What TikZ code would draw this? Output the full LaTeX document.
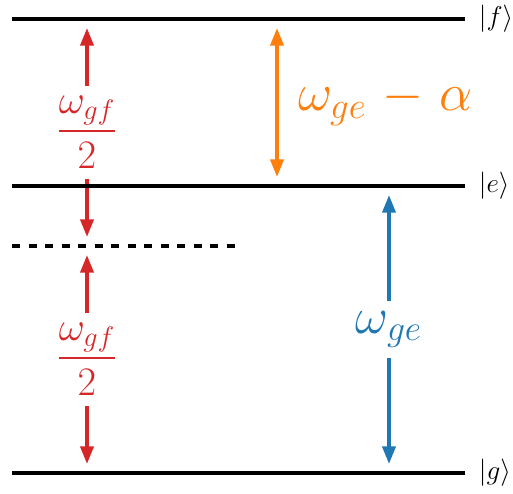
\RequirePackage{fix-cm}
\documentclass[tikz,border=0pt]{standalone}
\usepackage{amsmath,amssymb}
\usepackage{tikz}
\usetikzlibrary{arrows.meta,positioning}
\definecolor{tabred}{HTML}{D62728}
\definecolor{taborange}{HTML}{FF7F0E}
\definecolor{tabblue}{HTML}{1F77B4}
\tikzset{
  >={Triangle[length=10pt,width=7.4pt]},
  % nivåer
  lvl/.style={draw=black,line width=1.9pt},
  virt/.style={lvl,dash pattern=on 4.7pt off 4.7pt},
  ket/.style={anchor=west,inner sep=7pt,font=\fontsize{15.5}{18}\selectfont},
  % övergångar
  tr/.style={<->,line width=2pt,shorten <=0.18cm,shorten >=0.18cm},
  lbl/.style={fill=white,inner sep=6pt},
  half/.style={tr,draw=tabred,nodes={text=tabred,font=\fontsize{23}{27}\selectfont}},
  anh/.style={tr,draw=taborange,nodes={text=taborange,font=\fontsize{30}{35}\selectfont}},
  fund/.style={tr,draw=tabblue,nodes={text=tabblue,font=\fontsize{29}{34}\selectfont}},
}

\begin{document}
\begin{tikzpicture}
\useasboundingbox (0,0) rectangle (10.26,9.86);
  \coordinate (f0) at (0.24,9.48);
  \coordinate (f1) at (9.30,9.48);
  \coordinate (e0) at (0.24,6.14);
  \coordinate (e1) at (9.30,6.14);
  \coordinate (v0) at (0.24,4.94);
  \coordinate (v1) at (4.76,4.94);
  \coordinate (g0) at (0.24,0.40);
  \coordinate (g1) at (9.30,0.40);
  \coordinate (ra) at (1.74,9.48);
  \coordinate (rb) at (1.74,4.94);
  \coordinate (rc) at (1.74,0.40);
  \coordinate (oa) at (5.54,9.48);
  \coordinate (ob) at (5.54,6.14);
  \coordinate (ba) at (7.78,6.14);
  \coordinate (bb) at (7.78,0.40);
  \draw[half] (ra) -- node[lbl] (h1) {$\dfrac{\omega_{gf}}{2}$} (rb);
  \draw[half] (rb) -- node[lbl] (h2) {$\dfrac{\omega_{gf}}{2}$} (rc);
  \draw[anh] (oa) -- node[right=9pt,inner sep=2pt] (an) {$\omega_{ge}\mskip1.5mu-\mskip1.5mu\alpha$} (ob);
  \draw[fund] (ba) -- node[lbl] (fu) {$\omega_{ge}$} (bb);
  \draw[lvl] (f0) -- (f1) node[ket] (kf) {$|f\rangle$};
  \draw[lvl] (e0) -- (e1) node[ket] (ke) {$|e\rangle$};
  \draw[virt] (v0) -- (v1);
  \draw[lvl] (g0) -- (g1) node[ket] (kg) {$|g\rangle$};
\end{tikzpicture}
\end{document}
